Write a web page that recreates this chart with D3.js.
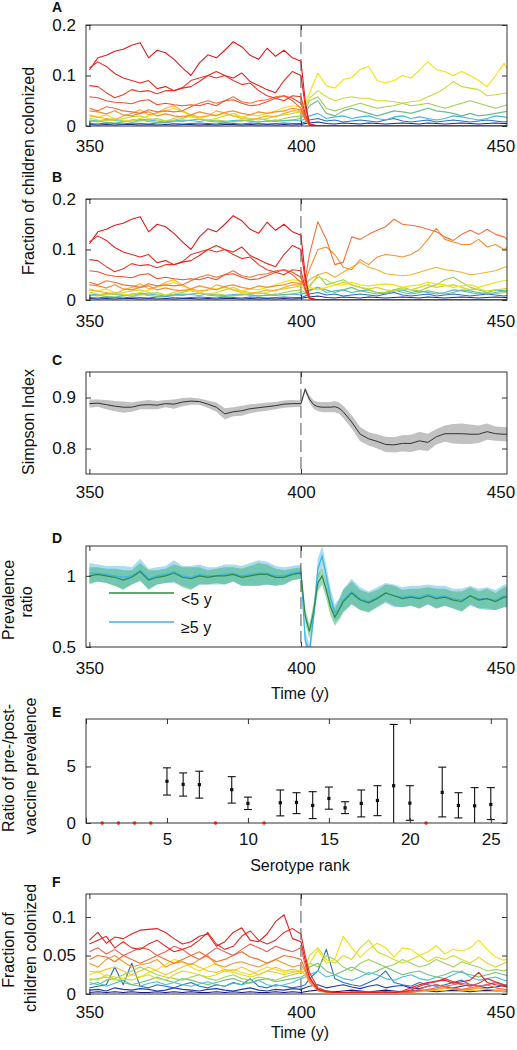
<!DOCTYPE html>
<html><head><meta charset="utf-8">
<script src="https://cdn.jsdelivr.net/npm/d3@7"></script>
<style>
body{margin:0;background:#fff}
svg{display:block}
text{font-family:"Liberation Sans",Arial,Helvetica,sans-serif;fill:#111}
</style>
</head><body>
<svg id="chart" width="517" height="1050"></svg>
<script>
// ---------- time grids ----------
const yearsPre  = [350,352,354,356,358,360,362,364,366,368,370,372,374,376,378,380,382,384,386,388,390,392,394,396,398,400];
const yearsPost = [401,402,404,406,408,410,412,414,416,418,420,422,424,426,428,430,432,434,436,438,440,442,444,446,448,450];
const yearsFine = [350,352,354,356,358,360,362,364,366,368,370,372,374,376,378,380,382,384,386,388,390,392,394,396,398,
  400,401,402,403,404,405,406,407,408,409,410,
  412,414,416,418,420,422,424,426,428,430,432,434,436,438,440,442,444,446,448,450];
const timeTicks = [350,400,450];

// ---------- panels A/B: pre-vaccine serotype prevalence (rank 1..14) ----------
const pre1  = [0.111,0.135,0.14,0.148,0.152,0.16,0.165,0.135,0.15,0.145,0.132,0.115,0.1,0.125,0.141,0.135,0.15,0.167,0.157,0.14,0.132,0.154,0.138,0.15,0.135,0.128];
const pre2  = [0.115,0.127,0.118,0.104,0.095,0.09,0.085,0.09,0.074,0.078,0.07,0.075,0.078,0.088,0.1,0.108,0.1,0.095,0.105,0.088,0.08,0.072,0.066,0.09,0.108,0.1];
const pre3  = [0.08,0.078,0.066,0.056,0.062,0.072,0.068,0.07,0.064,0.07,0.07,0.076,0.09,0.095,0.1,0.095,0.1,0.09,0.082,0.085,0.07,0.06,0.055,0.05,0.06,0.058];
const pre4  = [0.058,0.056,0.05,0.047,0.046,0.044,0.05,0.052,0.042,0.045,0.042,0.04,0.042,0.04,0.045,0.04,0.05,0.052,0.045,0.04,0.042,0.048,0.055,0.06,0.055,0.045];
const pre5  = [0.035,0.03,0.038,0.035,0.03,0.028,0.025,0.032,0.028,0.03,0.028,0.03,0.038,0.045,0.05,0.045,0.05,0.058,0.048,0.045,0.05,0.052,0.058,0.06,0.05,0.035];
const pre6  = [0.03,0.028,0.024,0.03,0.022,0.02,0.025,0.028,0.02,0.024,0.02,0.018,0.022,0.028,0.024,0.02,0.027,0.03,0.025,0.022,0.028,0.025,0.028,0.03,0.035,0.032];
const pre7  = [0.02,0.017,0.015,0.012,0.02,0.025,0.032,0.022,0.026,0.035,0.04,0.03,0.022,0.018,0.02,0.03,0.026,0.02,0.015,0.013,0.016,0.02,0.018,0.025,0.03,0.03];
const pre8  = [0.022,0.018,0.022,0.015,0.012,0.01,0.015,0.02,0.026,0.03,0.035,0.028,0.02,0.015,0.02,0.022,0.025,0.02,0.018,0.022,0.02,0.025,0.03,0.036,0.04,0.038];
const pre9  = [0.016,0.012,0.01,0.012,0.015,0.018,0.02,0.015,0.012,0.01,0.015,0.02,0.018,0.015,0.012,0.015,0.02,0.025,0.018,0.015,0.012,0.015,0.02,0.022,0.025,0.028];
const pre10 = [0.01,0.008,0.012,0.015,0.01,0.008,0.01,0.012,0.015,0.01,0.012,0.015,0.02,0.015,0.01,0.012,0.01,0.008,0.01,0.012,0.015,0.012,0.01,0.015,0.018,0.02];
const pre11 = [0.008,0.01,0.007,0.006,0.008,0.01,0.012,0.009,0.007,0.008,0.01,0.009,0.012,0.014,0.01,0.008,0.007,0.009,0.011,0.01,0.008,0.01,0.012,0.01,0.012,0.015];
const pre12 = [0.012,0.01,0.013,0.011,0.009,0.012,0.014,0.012,0.01,0.008,0.01,0.012,0.011,0.009,0.012,0.01,0.009,0.011,0.012,0.01,0.008,0.01,0.009,0.011,0.012,0.01];
const pre13 = [0.005,0.004,0.006,0.005,0.004,0.006,0.005,0.004,0.006,0.007,0.005,0.004,0.005,0.006,0.005,0.004,0.006,0.005,0.004,0.006,0.005,0.004,0.005,0.006,0.005,0.005];
const pre14 = [0.003,0.002,0.003,0.002,0.003,0.003,0.002,0.003,0.002,0.003,0.002,0.003,0.003,0.002,0.003,0.002,0.003,0.003,0.002,0.003,0.002,0.003,0.002,0.003,0.002,0.003];

// vaccine types after vaccination (eliminated)
const vac1 = [0.05,0.004,0,0,0,0,0,0,0,0,0,0,0,0,0,0,0,0,0,0,0,0,0,0,0,0];
const vac2 = [0.04,0.004,0,0,0,0,0,0,0,0,0,0,0,0,0,0,0,0,0,0,0,0,0,0,0,0];
const vac3 = [0.025,0.003,0,0,0,0,0,0,0,0,0,0,0,0,0,0,0,0,0,0,0,0,0,0,0,0];
const vac4 = [0.02,0.002,0,0,0,0,0,0,0,0,0,0,0,0,0,0,0,0,0,0,0,0,0,0,0,0];
const vac5 = [0.015,0.002,0,0,0,0,0,0,0,0,0,0,0,0,0,0,0,0,0,0,0,0,0,0,0,0];
const vac6 = [0.014,0.002,0,0,0,0,0,0,0,0,0,0,0,0,0,0,0,0,0,0,0,0,0,0,0,0];
const vac7 = [0.012,0.002,0,0,0,0,0,0,0,0,0,0,0,0,0,0,0,0,0,0,0,0,0,0,0,0];

// panel A post-vaccine, non-vaccine types
const postA8  = [0.045,0.065,0.105,0.08,0.075,0.092,0.096,0.112,0.118,0.09,0.085,0.09,0.1,0.095,0.11,0.127,0.112,0.108,0.1,0.108,0.1,0.09,0.078,0.1,0.124,0.095];
const postA9  = [0.04,0.055,0.07,0.058,0.05,0.055,0.058,0.055,0.055,0.05,0.05,0.048,0.045,0.048,0.05,0.058,0.065,0.075,0.088,0.078,0.075,0.072,0.06,0.062,0.065,0.065];
const postA10 = [0.03,0.05,0.058,0.035,0.03,0.035,0.04,0.045,0.04,0.035,0.038,0.04,0.045,0.04,0.042,0.045,0.04,0.035,0.04,0.045,0.05,0.045,0.04,0.035,0.04,0.045];
const postA11 = [0.025,0.04,0.05,0.025,0.02,0.03,0.035,0.03,0.025,0.02,0.025,0.03,0.028,0.025,0.03,0.035,0.03,0.028,0.025,0.02,0.025,0.02,0.022,0.025,0.028,0.03];
const postA12 = [0.015,0.02,0.025,0.015,0.018,0.02,0.015,0.018,0.02,0.015,0.012,0.018,0.02,0.015,0.018,0.015,0.012,0.015,0.02,0.018,0.015,0.012,0.015,0.02,0.018,0.015];
const postA13 = [0.008,0.012,0.015,0.01,0.012,0.008,0.01,0.012,0.01,0.008,0.012,0.015,0.01,0.008,0.01,0.012,0.008,0.01,0.012,0.01,0.008,0.01,0.012,0.01,0.008,0.01];
const postA14 = [0.005,0.006,0.008,0.005,0.004,0.006,0.005,0.004,0.006,0.005,0.004,0.005,0.006,0.005,0.004,0.006,0.005,0.004,0.005,0.006,0.005,0.004,0.005,0.006,0.005,0.004];

// panel B post-vaccine (ranks 5..11 survive)
const postB5  = [0.04,0.09,0.155,0.12,0.07,0.075,0.125,0.12,0.13,0.138,0.145,0.16,0.15,0.148,0.145,0.14,0.135,0.125,0.118,0.13,0.138,0.13,0.14,0.13,0.125,0.11];
const postB6  = [0.035,0.06,0.1,0.105,0.09,0.065,0.06,0.08,0.07,0.085,0.09,0.088,0.085,0.09,0.1,0.12,0.142,0.12,0.115,0.11,0.11,0.12,0.105,0.11,0.1,0.11];
const postB7  = [0.03,0.04,0.05,0.055,0.045,0.055,0.065,0.075,0.065,0.06,0.052,0.05,0.048,0.05,0.055,0.06,0.065,0.06,0.058,0.055,0.05,0.052,0.055,0.058,0.065,0.068];
const postB8  = [0.03,0.025,0.02,0.025,0.03,0.03,0.035,0.03,0.028,0.03,0.032,0.03,0.025,0.028,0.03,0.035,0.032,0.03,0.025,0.028,0.03,0.025,0.03,0.035,0.038,0.04];
const postB9  = [0.02,0.03,0.045,0.04,0.03,0.035,0.03,0.025,0.022,0.025,0.02,0.018,0.022,0.02,0.025,0.03,0.025,0.028,0.03,0.025,0.02,0.022,0.018,0.02,0.022,0.025];
const postB10 = [0.015,0.025,0.05,0.03,0.035,0.04,0.03,0.025,0.02,0.015,0.015,0.02,0.025,0.02,0.018,0.025,0.03,0.04,0.045,0.035,0.025,0.02,0.015,0.012,0.015,0.018];
const postB11 = [0.012,0.018,0.025,0.02,0.015,0.02,0.025,0.018,0.015,0.012,0.015,0.02,0.015,0.012,0.015,0.018,0.015,0.012,0.015,0.02,0.018,0.015,0.012,0.015,0.018,0.02];

const rankColors = ["rgb(228,26,28)","rgb(232,40,36)","rgb(236,56,40)","rgb(240,80,45)","rgb(243,112,55)","rgb(246,142,50)","rgb(248,175,45)",
  "rgb(245,225,10)","rgb(205,218,45)","rgb(160,208,85)","rgb(105,192,135)","rgb(70,185,215)","rgb(40,110,200)","rgb(25,40,140)"];

// ---------- panel C: Simpson index ----------
const simpsonMean = [0.888,0.889,0.886,0.883,0.881,0.881,0.885,0.886,0.885,0.888,0.887,0.891,0.893,0.892,0.887,0.881,0.868,0.872,0.874,0.878,0.88,0.882,0.884,0.887,0.888,
  0.888,0.916,0.897,0.886,0.882,0.881,0.881,0.881,0.882,0.879,0.872,
  0.852,0.828,0.819,0.814,0.808,0.807,0.81,0.81,0.815,0.812,0.823,0.829,0.829,0.829,0.828,0.828,0.833,0.829,0.828,0.828];
const simpsonSpread = [0.008,0.007,0.009,0.01,0.011,0.009,0.008,0.009,0.008,0.007,0.009,0.008,0.007,0.006,0.007,0.009,0.011,0.009,0.01,0.009,0.008,0.008,0.007,0.007,0.007,
  0.006,0.005,0.007,0.008,0.009,0.01,0.01,0.01,0.011,0.011,0.012,
  0.013,0.014,0.013,0.014,0.015,0.015,0.016,0.017,0.018,0.017,0.015,0.016,0.019,0.02,0.019,0.017,0.016,0.014,0.014,0.015];

// ---------- panel D: prevalence ratio ----------
const ratioUnder5 = [1.0,1.01,1.0,0.99,0.97,0.99,1.03,0.97,0.99,1.0,1.02,0.99,0.98,1.0,0.99,1.0,1.0,1.01,0.99,1.0,1.01,1.01,0.99,0.99,1.01,
  1.02,0.72,0.61,0.75,0.95,1.0,0.9,0.78,0.71,0.76,0.82,
  0.88,0.83,0.81,0.84,0.88,0.86,0.84,0.85,0.84,0.86,0.84,0.85,0.83,0.82,0.86,0.83,0.84,0.82,0.85,0.85];
const ratioOver5 = [1.02,1.02,1.01,1.0,0.99,1.0,1.04,0.98,1.0,1.01,1.03,1.0,0.99,1.01,1.0,1.0,1.01,1.02,1.0,1.01,1.02,1.02,1.0,1.0,1.02,
  1.03,0.55,0.46,0.72,1.05,1.14,1.0,0.85,0.74,0.77,0.83,
  0.89,0.84,0.82,0.85,0.88,0.86,0.85,0.86,0.85,0.87,0.85,0.86,0.84,0.83,0.86,0.84,0.84,0.83,0.86,0.86];
const spreadUnder5 = [0.06,0.05,0.05,0.06,0.07,0.05,0.06,0.07,0.05,0.05,0.06,0.07,0.08,0.06,0.05,0.05,0.06,0.05,0.06,0.07,0.08,0.07,0.06,0.05,0.04,
  0.04,0.05,0.05,0.06,0.06,0.06,0.06,0.06,0.06,0.07,0.08,
  0.08,0.07,0.07,0.06,0.06,0.07,0.06,0.06,0.07,0.06,0.07,0.06,0.06,0.07,0.06,0.06,0.07,0.06,0.07,0.07];
const spreadOver5 = [0.07,0.06,0.06,0.07,0.08,0.06,0.08,0.07,0.06,0.06,0.08,0.07,0.08,0.07,0.06,0.06,0.07,0.06,0.07,0.08,0.09,0.08,0.07,0.06,0.05,
  0.05,0.06,0.06,0.07,0.07,0.07,0.07,0.06,0.06,0.07,0.08,
  0.09,0.08,0.07,0.07,0.07,0.08,0.07,0.07,0.08,0.07,0.08,0.07,0.07,0.08,0.07,0.07,0.08,0.07,0.08,0.08];
const legendLabels = ["<5 y","\u22655 y"];

// ---------- panel E: ratio of pre/post prevalence ----------
const eRank  = [1,2,3,4,5,6,7,8,9,10,11,12,13,14,15,16,17,18,19,20,21,22,23,24,25];
const eRatio = [0,0,0,0,3.69,3.42,3.39,0,2.95,1.73,0,1.79,1.82,1.55,2.17,1.34,1.73,1.99,3.3,1.76,0,2.71,1.55,1.52,1.64];
const eLow   = [null,null,null,null,2.47,2.38,2.2,null,1.76,1.19,null,0.63,0.83,0.39,1.22,0.83,0.54,0.65,0,0.24,null,0.54,0.45,0,0.3];
const eHigh  = [null,null,null,null,4.88,4.43,4.58,null,4.1,2.29,null,2.92,2.68,2.77,3.18,1.88,2.92,3.3,8.72,3.3,null,4.94,2.68,3.13,3.13];
const eTicksX = [0,5,10,15,20,25];
const eTicksY = [0,5];

// ---------- panel F: 25-serotype run (14 shown) ----------
const f1  = [0.07,0.08,0.066,0.074,0.072,0.078,0.083,0.084,0.085,0.08,0.072,0.065,0.068,0.075,0.078,0.062,0.068,0.08,0.086,0.07,0.068,0.078,0.094,0.103,0.072,0.068,
  0.044,0.022,0.006,0.003,0.002,0.002,0.002,0.003,0.002,0.002,0.003,0.002,0.004,0.008,0.012,0.015,0.017,0.018,0.014,0.016,0.018,0.028,0.015,0.012,0.01,0.008];
const f2  = [0.065,0.07,0.075,0.06,0.068,0.06,0.058,0.065,0.07,0.062,0.055,0.058,0.062,0.07,0.08,0.065,0.058,0.062,0.075,0.082,0.07,0.065,0.07,0.08,0.085,0.078,
  0.05,0.028,0.008,0.004,0.002,0.002,0.003,0.002,0.002,0.003,0.002,0.002,0.003,0.005,0.01,0.014,0.016,0.02,0.016,0.012,0.01,0.014,0.02,0.016,0.012,0.01];
const f3  = [0.055,0.06,0.052,0.058,0.05,0.055,0.06,0.058,0.05,0.055,0.062,0.058,0.05,0.045,0.052,0.06,0.055,0.05,0.058,0.065,0.06,0.055,0.062,0.058,0.055,0.06,
  0.038,0.02,0.006,0.003,0.002,0.002,0.002,0.003,0.002,0.002,0.003,0.002,0.002,0.003,0.006,0.01,0.012,0.01,0.012,0.014,0.012,0.01,0.012,0.015,0.01,0.008];
const f4  = [0.045,0.05,0.048,0.042,0.05,0.045,0.04,0.045,0.05,0.045,0.04,0.045,0.05,0.055,0.048,0.042,0.045,0.05,0.055,0.048,0.045,0.04,0.045,0.05,0.048,0.045,
  0.032,0.018,0.005,0.003,0.002,0.002,0.002,0.002,0.003,0.002,0.002,0.003,0.002,0.002,0.004,0.006,0.008,0.01,0.008,0.006,0.008,0.01,0.012,0.008,0.006,0.005];
const f5  = [0.04,0.035,0.045,0.05,0.042,0.035,0.038,0.04,0.045,0.035,0.04,0.042,0.038,0.045,0.05,0.038,0.035,0.04,0.042,0.038,0.035,0.04,0.045,0.04,0.035,0.038,
  0.03,0.015,0.004,0.002,0.002,0.002,0.002,0.002,0.002,0.002,0.002,0.002,0.002,0.003,0.004,0.005,0.006,0.008,0.006,0.005,0.006,0.008,0.006,0.005,0.004,0.004];
const f6  = [0.03,0.028,0.032,0.035,0.03,0.025,0.03,0.035,0.03,0.025,0.03,0.035,0.04,0.035,0.03,0.028,0.032,0.03,0.035,0.03,0.025,0.03,0.035,0.03,0.032,0.03,
  0.025,0.015,0.005,0.003,0.002,0.002,0.002,0.002,0.002,0.002,0.002,0.002,0.002,0.002,0.003,0.004,0.005,0.004,0.003,0.004,0.005,0.004,0.003,0.004,0.003,0.003];
const f7  = [0.025,0.03,0.022,0.018,0.02,0.025,0.022,0.028,0.032,0.038,0.045,0.042,0.035,0.03,0.035,0.04,0.03,0.032,0.028,0.025,0.03,0.035,0.032,0.028,0.03,0.028,
  0.03,0.04,0.057,0.04,0.045,0.075,0.06,0.048,0.058,0.066,0.06,0.048,0.06,0.058,0.05,0.055,0.063,0.052,0.058,0.056,0.06,0.07,0.058,0.048,0.044,0.05];
const f8  = [0.02,0.018,0.025,0.022,0.02,0.018,0.022,0.025,0.02,0.018,0.025,0.03,0.028,0.025,0.022,0.025,0.03,0.028,0.025,0.022,0.025,0.03,0.028,0.025,0.028,0.03,
  0.035,0.05,0.06,0.045,0.04,0.05,0.045,0.06,0.07,0.055,0.05,0.045,0.04,0.045,0.05,0.042,0.048,0.045,0.05,0.045,0.04,0.048,0.04,0.035,0.04,0.045];
const f9  = [0.018,0.02,0.022,0.02,0.025,0.03,0.035,0.03,0.025,0.022,0.02,0.018,0.022,0.025,0.02,0.018,0.022,0.025,0.02,0.018,0.022,0.02,0.018,0.022,0.025,0.028,
  0.03,0.04,0.035,0.05,0.045,0.035,0.03,0.04,0.045,0.04,0.035,0.038,0.045,0.04,0.035,0.038,0.045,0.04,0.035,0.042,0.038,0.035,0.03,0.032,0.03,0.035];
const f10 = [0.015,0.012,0.018,0.02,0.015,0.012,0.015,0.018,0.022,0.018,0.015,0.02,0.018,0.015,0.012,0.015,0.018,0.02,0.016,0.014,0.018,0.02,0.016,0.018,0.02,0.022,
  0.025,0.035,0.04,0.03,0.025,0.03,0.035,0.03,0.025,0.03,0.035,0.03,0.025,0.028,0.03,0.025,0.022,0.025,0.03,0.028,0.025,0.022,0.025,0.028,0.025,0.022];
const f11 = [0.012,0.015,0.01,0.014,0.018,0.012,0.01,0.014,0.016,0.012,0.015,0.012,0.01,0.013,0.016,0.012,0.01,0.014,0.012,0.015,0.018,0.012,0.01,0.012,0.015,0.02,
  0.022,0.025,0.03,0.022,0.025,0.02,0.018,0.022,0.028,0.025,0.02,0.018,0.022,0.025,0.02,0.018,0.022,0.02,0.025,0.03,0.022,0.018,0.02,0.022,0.018,0.015];
const f12 = [0.008,0.01,0.012,0.035,0.012,0.04,0.01,0.008,0.012,0.01,0.008,0.012,0.015,0.01,0.008,0.012,0.01,0.015,0.012,0.02,0.01,0.008,0.012,0.01,0.008,0.01,
  0.012,0.02,0.03,0.058,0.02,0.015,0.012,0.01,0.015,0.02,0.03,0.015,0.012,0.01,0.015,0.012,0.01,0.012,0.015,0.018,0.012,0.01,0.012,0.015,0.012,0.01];
const f13 = [0.005,0.006,0.004,0.008,0.006,0.005,0.007,0.006,0.004,0.005,0.008,0.006,0.005,0.004,0.006,0.007,0.005,0.004,0.006,0.008,0.005,0.004,0.006,0.005,0.007,0.006,
  0.008,0.01,0.012,0.008,0.01,0.012,0.009,0.007,0.01,0.012,0.008,0.01,0.011,0.008,0.007,0.01,0.012,0.009,0.008,0.01,0.012,0.01,0.008,0.009,0.011,0.01];
const f14 = [0.002,0.003,0.002,0.003,0.002,0.003,0.002,0.002,0.003,0.002,0.003,0.002,0.003,0.002,0.002,0.003,0.002,0.003,0.002,0.003,0.002,0.002,0.003,0.002,0.003,0.002,
  0.003,0.004,0.005,0.004,0.003,0.004,0.005,0.004,0.003,0.004,0.005,0.004,0.003,0.004,0.005,0.004,0.003,0.004,0.005,0.004,0.003,0.004,0.005,0.004,0.003,0.004];
const fColors = ["rgb(230,30,30)","rgb(235,45,40)","rgb(240,95,85)","rgb(245,110,45)","rgb(248,150,40)","rgb(250,195,40)","rgb(245,225,10)",
  "rgb(210,220,40)","rgb(160,210,90)","rgb(110,195,130)","rgb(70,190,220)","rgb(40,110,200)","rgb(30,60,170)","rgb(20,25,120)"];

// ================= drawing =================
const FONT = '"Liberation Sans",Arial,Helvetica,sans-serif';
const svg = d3.select('#chart');
const X0 = 86, X1 = 507;
const xTime = d3.scaleLinear().domain([349.2, 448.7]).range([X0, X1]);
let clipId = 0;

function frame(top, bottom, x, y, xTicks, yTicks, yFmt, xPad) {
  const g = svg.append('g');
  g.append('g').attr('transform', `translate(0,${top})`)
    .call(d3.axisTop(x).tickValues(xTicks).tickSizeInner(-5).tickSizeOuter(0).tickFormat(''));
  g.append('g').attr('class','xb').attr('transform', `translate(0,${bottom})`)
    .call(d3.axisBottom(x).tickValues(xTicks).tickSizeInner(-5).tickSizeOuter(0).tickPadding(xPad).tickFormat(d3.format('d')));
  g.append('g').attr('transform', `translate(${X0},0)`)
    .call(d3.axisLeft(y).tickValues(yTicks).tickFormat(yFmt).tickSizeInner(-5).tickSizeOuter(0).tickPadding(10));
  g.append('g').attr('transform', `translate(${X1},0)`)
    .call(d3.axisRight(y).tickValues(yTicks).tickSizeInner(-5).tickSizeOuter(0).tickFormat(''));
  g.selectAll('.domain').remove();
  g.selectAll('.tick line').attr('stroke', '#333');
  g.selectAll('.tick text').attr('font-size', 17).attr('font-family', FONT).attr('fill', '#111');
  // ticks beyond the plotted range: keep the label at the edge, drop the mark
  g.selectAll('.tick').each(function(d) {
    const sel = d3.select(this);
    const tr = sel.attr('transform') || '';
    const m = /translate\(([-\d.]+),/.exec(tr);
    if (m && +m[1] > X1 + 1) {
      sel.select('line').remove();
      sel.select('text').attr('dx', (X1 - 6) - (+m[1]));
    }
  });
  g.append('rect').attr('x', X0).attr('y', top).attr('width', X1 - X0).attr('height', bottom - top)
    .attr('fill', 'none').attr('stroke', '#333').attr('stroke-width', 1);
  return g;
}

function plotArea(top, bottom) {
  const id = 'clip' + (clipId++);
  svg.append('clipPath').attr('id', id).append('rect')
    .attr('x', X0).attr('y', top).attr('width', X1 - X0).attr('height', bottom - top);
  return svg.append('g').attr('clip-path', `url(#${id})`);
}

function vline400(top, bottom) {
  svg.append('line').attr('x1', xTime(400)).attr('x2', xTime(400)).attr('y1', top).attr('y2', bottom)
    .attr('stroke', '#555').attr('stroke-width', 1).attr('stroke-dasharray', '12,5');
}

function drawLines(g, series, x, y) {
  const line = d3.line().x(d => x(d[0])).y(d => y(d[1]));
  g.selectAll(null).data(series).join('path')
    .attr('d', s => line(d3.zip(s.years, s.values)))
    .attr('fill', 'none').attr('stroke', s => s.color)
    .attr('stroke-width', 1.1).attr('stroke-linejoin', 'round');
}

function label(txt, x, y, opts = {}) {
  const t = svg.append('text').attr('x', x).attr('y', y).text(txt)
    .attr('font-size', opts.size || 16).attr('font-family', FONT);
  if (opts.bold) t.attr('font-weight', 'bold');
  if (opts.anchor) t.attr('text-anchor', opts.anchor);
  return t;
}
function vlabel(txt, x, y) {
  svg.append('text').attr('transform', `translate(${x},${y}) rotate(-90)`)
    .attr('text-anchor', 'middle').attr('font-size', 16).attr('font-family', FONT).text(txt);
}

const fmtTrim = d => String(d);
const yearsAB = yearsPre.concat(yearsPost);
const preAll = [pre1,pre2,pre3,pre4,pre5,pre6,pre7,pre8,pre9,pre10,pre11,pre12,pre13,pre14];

// ---- Panel A ----
{
  const top = 25, bottom = 126;
  const y = d3.scaleLinear().domain([0, 0.2]).range([bottom, top]);
  const posts = [vac1,vac2,vac3,vac4,vac5,vac6,vac7,postA8,postA9,postA10,postA11,postA12,postA13,postA14];
  const series = preAll.map((p, i) => ({years: yearsAB, values: p.concat(posts[i]), color: rankColors[i]})).reverse();
  vline400(top, bottom);
  drawLines(plotArea(top, bottom), series, xTime, y);
  frame(top, bottom, xTime, y, timeTicks, [0, 0.1, 0.2], fmtTrim, 14);
  label('A', 52, 12, {bold: true, size: 14});
}
// ---- Panel B ----
{
  const top = 199, bottom = 300;
  const y = d3.scaleLinear().domain([0, 0.2]).range([bottom, top]);
  const posts = [vac1,vac2,vac3,vac4,postB5,postB6,postB7,postB8,postB9,postB10,postB11,postA12,postA13,postA14];
  const series = preAll.map((p, i) => ({years: yearsAB, values: p.concat(posts[i]), color: rankColors[i]})).reverse();
  vline400(top, bottom);
  drawLines(plotArea(top, bottom), series, xTime, y);
  frame(top, bottom, xTime, y, timeTicks, [0, 0.1, 0.2], fmtTrim, 15);
  label('B', 52, 182, {bold: true, size: 14});
}
vlabel('Fraction of children colonized', 34, 171);

// ---- Panel C ----
{
  const top = 372, bottom = 474;
  const y = d3.scaleLinear().domain([0.75, 0.95]).range([bottom, top]);
  const pts = d3.zip(yearsFine, simpsonMean, simpsonSpread);
  const g = plotArea(top, bottom);
  g.append('path').datum(pts)
    .attr('d', d3.area().x(d => xTime(d[0])).y0(d => y(d[1] - d[2])).y1(d => y(d[1] + d[2])))
    .attr('fill', '#c2c2c2');
  g.append('path').datum(pts)
    .attr('d', d3.line().x(d => xTime(d[0])).y(d => y(d[1])))
    .attr('fill', 'none').attr('stroke', '#333').attr('stroke-width', 1);
  vline400(top, bottom);
  frame(top, bottom, xTime, y, timeTicks, [0.8, 0.9], fmtTrim, 12);
  label('C', 52, 365, {bold: true, size: 14});
  vlabel('Simpson Index', 34, 422);
}

// ---- Panel D ----
{
  const top = 546, bottom = 647;
  const y = d3.scaleLinear().domain([0.5, 1.21]).range([bottom, top]);
  const g = plotArea(top, bottom);
  const area = d3.area().x(d => xTime(d[0])).y0(d => y(d[1] - d[2])).y1(d => y(d[1] + d[2]));
  const line = d3.line().x(d => xTime(d[0])).y(d => y(d[1]));
  const blue = d3.zip(yearsFine, ratioOver5, spreadOver5);
  const green = d3.zip(yearsFine, ratioUnder5, spreadUnder5);
  g.append('path').datum(blue).attr('d', area).attr('fill', '#aadcf3');
  g.append('path').datum(green).attr('d', area).attr('fill', 'rgb(60,175,110)').attr('fill-opacity', 0.5);
  g.append('path').datum(blue).attr('d', line).attr('fill', 'none').attr('stroke', '#3bb4e5').attr('stroke-width', 1.2);
  g.append('path').datum(green).attr('d', line).attr('fill', 'none').attr('stroke', '#2e8b3e').attr('stroke-width', 1.2);
  vline400(top, bottom);
  frame(top, bottom, xTime, y, timeTicks, [0.5, 1], fmtTrim, 15);
  // legend
  const lg = [{c: '#2e8b3e', ly: 593, ty: 605}, {c: '#3bb4e5', ly: 622, ty: 633}];
  lg.forEach((L, i) => {
    svg.append('line').attr('x1', 109).attr('x2', 174).attr('y1', L.ly).attr('y2', L.ly)
      .attr('stroke', L.c).attr('stroke-width', 1.5);
    label(legendLabels[i], 181, L.ty);
  });
  label('D', 52, 543, {bold: true, size: 14});
  vlabel('Prevalence', 14, 600);
  vlabel('ratio', 32, 602);
  label('Time (y)', 300, 699, {anchor: 'middle'});
}

// ---- Panel E ----
{
  const top = 719, bottom = 823;
  const x = d3.scaleLinear().domain([0, 26]).range([X0, X1]);
  const y = d3.scaleLinear().domain([0, 9.2]).range([bottom, top]);
  const g = plotArea(top - 2, bottom + 3);
  const rows = eRank.map((r, i) => ({r, v: eRatio[i], lo: eLow[i], hi: eHigh[i]}));
  const bars = rows.filter(d => d.lo !== null);
  g.selectAll(null).data(bars).join('line')
    .attr('x1', d => x(d.r)).attr('x2', d => x(d.r)).attr('y1', d => y(d.lo)).attr('y2', d => y(d.hi))
    .attr('stroke', '#111').attr('stroke-width', 1.1);
  ['lo', 'hi'].forEach(k => {
    g.selectAll(null).data(bars.filter(d => d[k] > 0)).join('line')
      .attr('x1', d => x(d.r) - 4).attr('x2', d => x(d.r) + 4).attr('y1', d => y(d[k])).attr('y2', d => y(d[k]))
      .attr('stroke', '#111').attr('stroke-width', 1.1);
  });
  g.selectAll(null).data(bars).join('rect')
    .attr('x', d => x(d.r) - 1.6).attr('y', d => y(d.v) - 1.6).attr('width', 3.2).attr('height', 3.2).attr('fill', '#111');
  frame(top, bottom, x, y, eTicksX, eTicksY, fmtTrim, 10);
  svg.selectAll(null).data(rows.filter(d => d.lo === null)).join('circle')
    .attr('cx', d => x(d.r)).attr('cy', d => y(d.v)).attr('r', 1.8).attr('fill', 'rgb(225,30,30)');
  label('E', 52, 717, {bold: true, size: 14});
  vlabel('Ratio of pre-/post-', 14, 768);
  vlabel('vaccine prevalence', 36, 766);
  label('Serotype rank', 300, 871, {anchor: 'middle'});
}

// ---- Panel F ----
{
  const top = 894, bottom = 994;
  const y = d3.scaleLinear().domain([0, 0.13]).range([bottom, top]);
  const fAll = [f1,f2,f3,f4,f5,f6,f7,f8,f9,f10,f11,f12,f13,f14];
  const series = fAll.map((v, i) => ({years: yearsAB, values: v, color: fColors[i]})).reverse();
  vline400(top, bottom);
  drawLines(plotArea(top, bottom), series, xTime, y);
  frame(top, bottom, xTime, y, timeTicks, [0, 0.05, 0.1], fmtTrim, 12);
  label('F', 52, 887, {bold: true, size: 14});
  vlabel('Fraction of', 14, 950);
  vlabel('children colonized', 36, 948);
  label('Time (y)', 300, 1038, {anchor: 'middle'});
}
</script>
</body></html>
